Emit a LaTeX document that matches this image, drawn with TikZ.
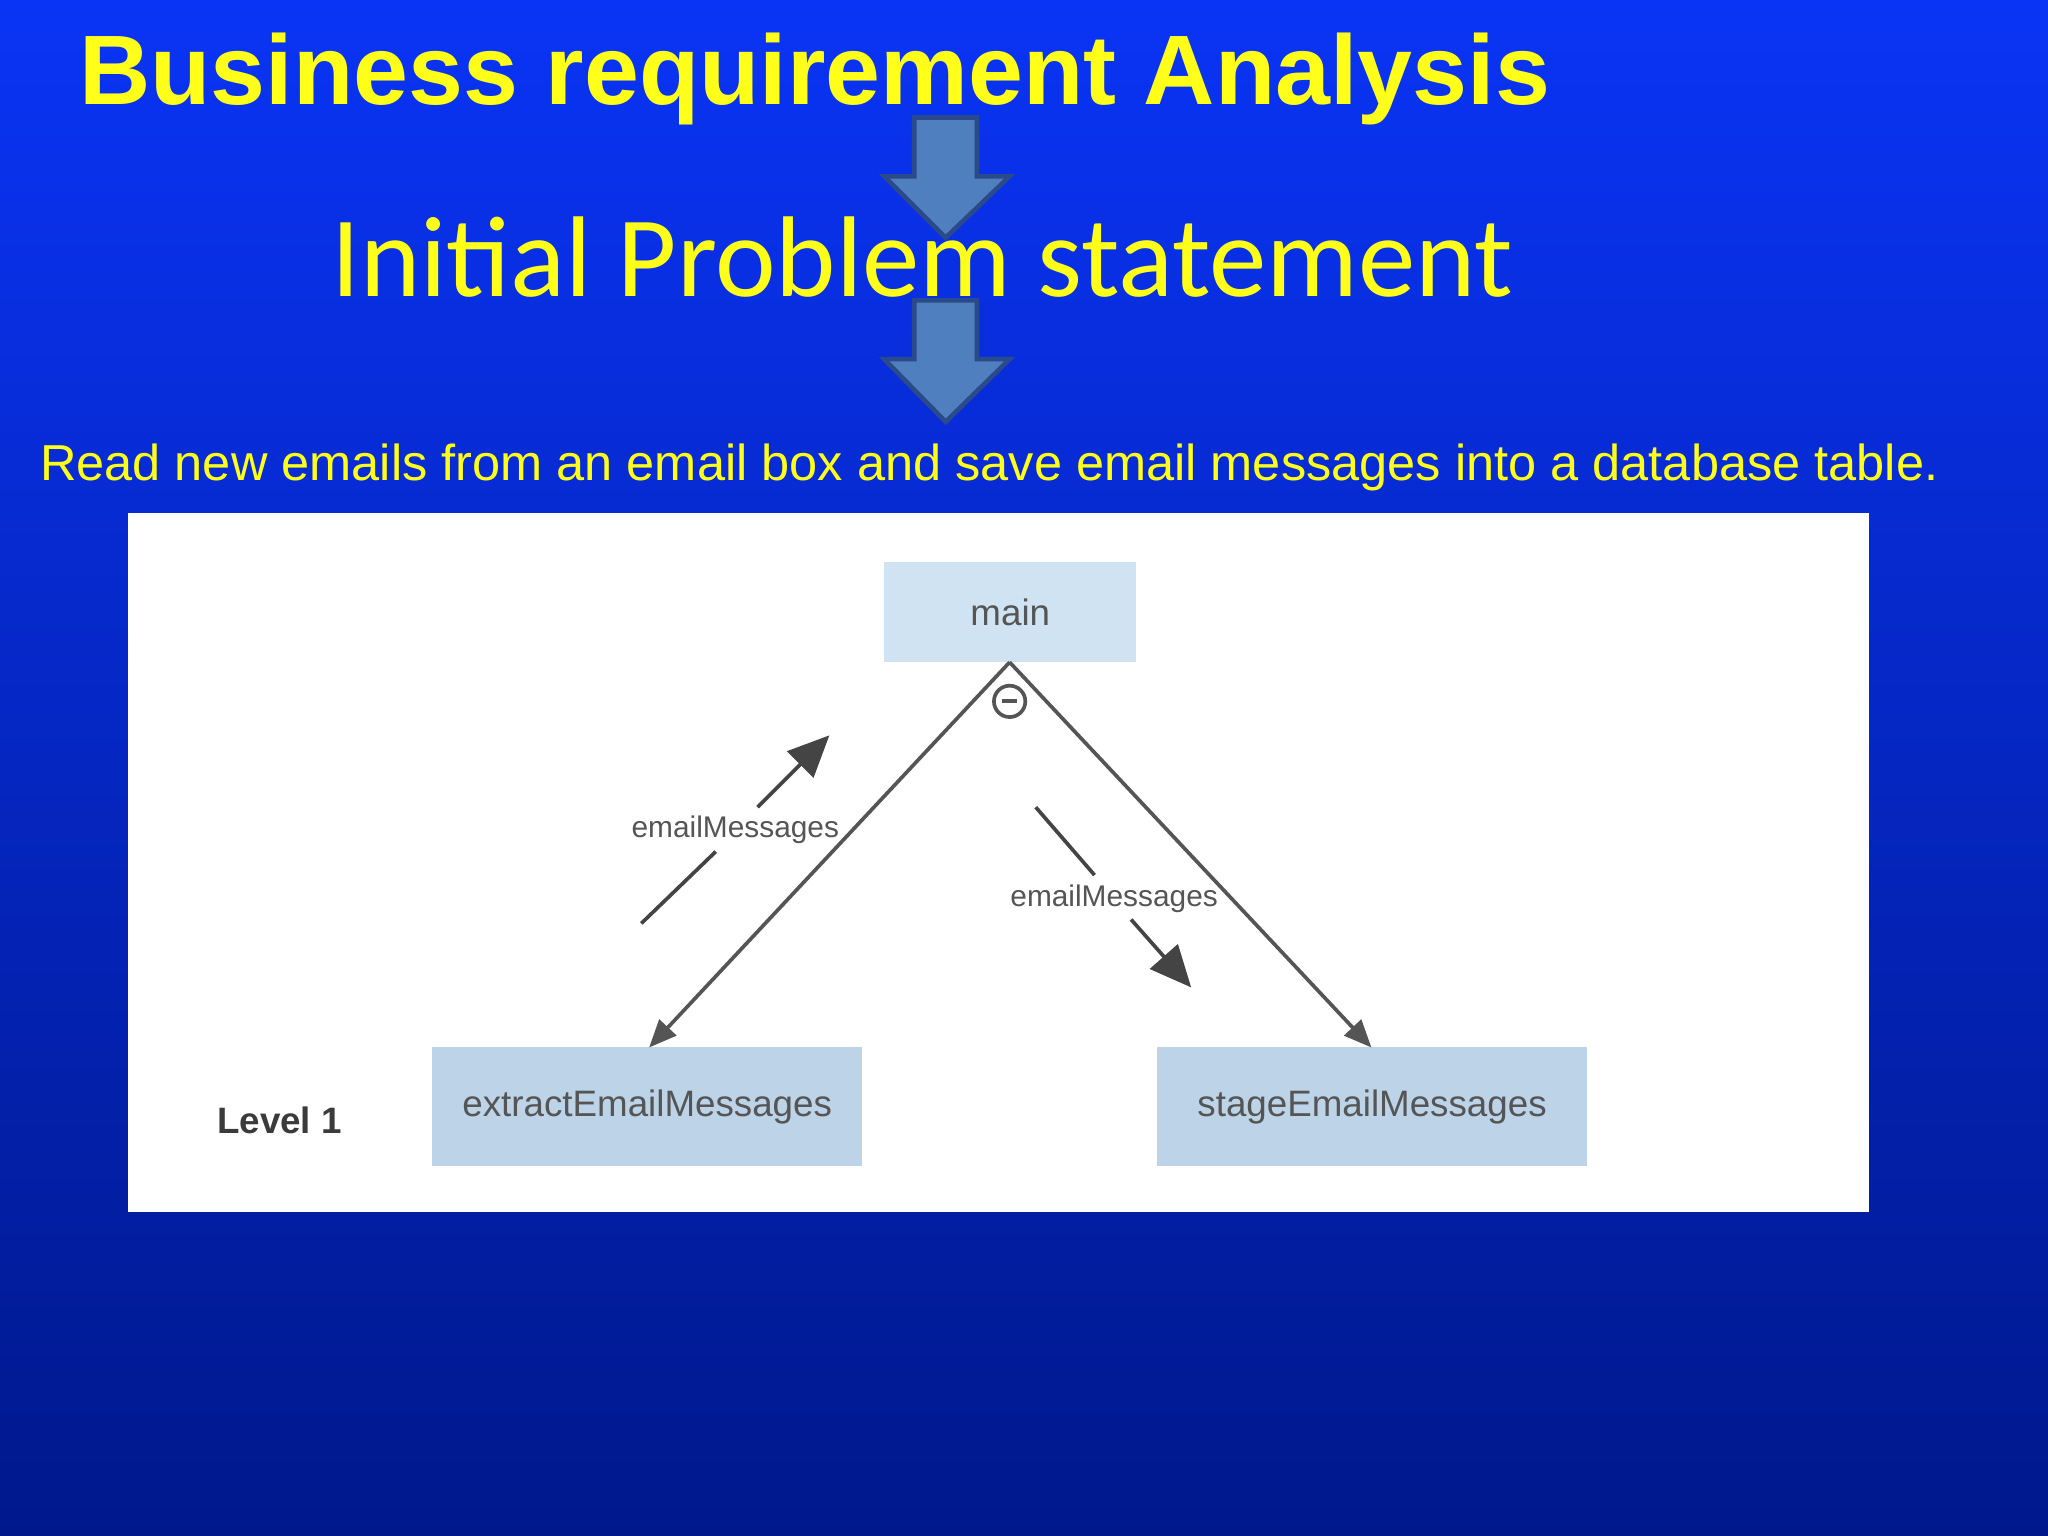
\documentclass[tikz,border=0pt]{standalone}
\usepackage{fontspec}
\setmainfont{Liberation Sans}
\newfontfamily\calib{Carlito}
\usetikzlibrary{arrows.meta}
\definecolor{ylw}{HTML}{FFFF1A}
\definecolor{arrfill}{HTML}{4F7FBE}
\definecolor{arrdraw}{HTML}{2A4A8A}
\definecolor{boxa}{HTML}{CFE3F3}
\definecolor{boxb}{HTML}{BCD3E8}
\definecolor{txtg}{HTML}{555555}
\tikzset{
 blockarrow/.style={fill=arrfill,draw=arrdraw,line width=1pt},
 diabox/.style={fill=#1,draw=none,inner sep=0pt,text=txtg,font=\fontsize{8}{9}\selectfont},
 lbl/.style={text=txtg,font=\fontsize{6.5}{7}\selectfont,inner sep=1pt},
 conn/.style={draw=txtg,line width=0.8pt,-{Triangle[length=6pt,width=5pt]}},
 flow/.style={draw=txtg!80!black,line width=0.8pt},
}
\begin{document}
\begin{tikzpicture}[x=0.01cm,y=-0.01cm]
\useasboundingbox (0,0) rectangle (1568,1176);
\shade[top color={rgb,255:red,10;green,52;blue,245},bottom color={rgb,255:red,0;green,24;blue,140}] (0,0) rectangle (1568,1176);
\node[anchor=base west,text=ylw,font=\fontsize{21.5}{24}\selectfont\bfseries,inner sep=0pt] (title) at (60,80) {Business requirement Analysis};
\node[text=ylw,font=\calib\fontsize{25}{28}\selectfont,inner sep=0pt,anchor=base] (init) at (706,227) {Initial Problem statement};
\draw[blockarrow] (700,90) -- (748,90) -- (748,135) -- (773,135) -- (724,182) -- (677,135) -- (700,135) -- cycle;
\draw[blockarrow] (700,230) -- (748,230) -- (748,275) -- (773,275) -- (724,323) -- (677,275) -- (700,275) -- cycle;
\node[anchor=base west,text=ylw,font=\fontsize{11}{13}\selectfont,inner sep=0pt] (stmt) at (30,368) {Read new emails from an email box and save email messages into a database table.};
\fill[white] (98,393) rectangle (1431,928);
\node[diabox=boxa,minimum width=1.93cm,minimum height=0.77cm] (main) at (773.5,468.5) {main};
\node[diabox=boxb,minimum width=3.29cm,minimum height=0.91cm] (ext) at (495.5,847.5) {extractEmailMessages};
\node[diabox=boxb,minimum width=3.29cm,minimum height=0.91cm] (stg) at (1050.5,847.5) {stageEmailMessages};
\node[text=txtg!70!black,font=\fontsize{8}{9}\selectfont\bfseries] (lvl) at (214,858) {Level 1};
\coordinate (apex) at (773,507);
\coordinate (le) at (497,802);
\coordinate (re) at (1050,802);
\draw[conn] (apex) -- (le);
\draw[conn] (apex) -- (re);
\node[circle,draw=txtg,fill=white,line width=0.8pt,minimum size=0.24cm,inner sep=0pt] (minus) at (773,537) {};
\draw[txtg,line width=0.9pt] ([xshift=-0.06cm]minus.center) -- ([xshift=0.06cm]minus.center);
\node[lbl] (l1) at (563,635) {emailMessages};
\node[lbl] (l2) at (853,688) {emailMessages};
\coordinate (a1) at (491,707); \coordinate (a2) at (548,652);
\coordinate (a3) at (580,618); \coordinate (a4) at (635,563);
\draw[flow] (a1) -- (a2);
\draw[flow,-{Triangle[length=9pt,width=8pt]}] (a3) -- (a4);
\coordinate (b1) at (793,618); \coordinate (b2) at (838,670);
\coordinate (b3) at (866,704); \coordinate (b4) at (912,756);
\draw[flow] (b1) -- (b2);
\draw[flow,-{Triangle[length=9pt,width=8pt]}] (b3) -- (b4);
\end{tikzpicture}
\end{document}
